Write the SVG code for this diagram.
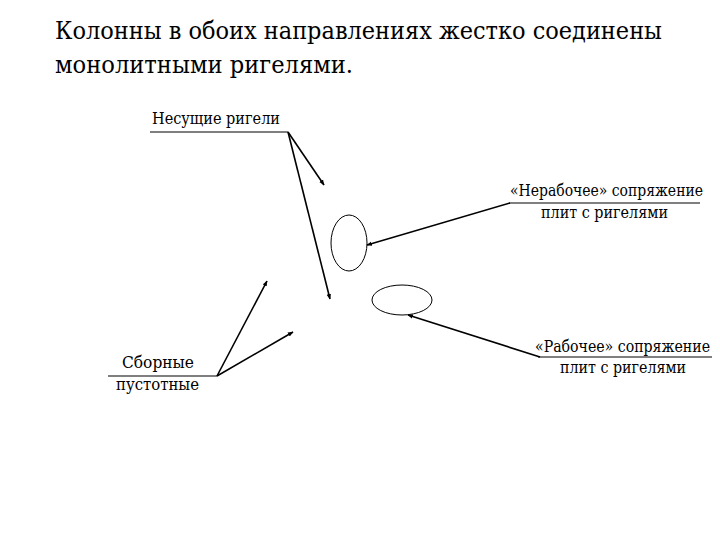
<svg xmlns="http://www.w3.org/2000/svg" width="720" height="540" viewBox="0 0 720 540">
<style>
text{font-family:"DejaVu Serif Condensed","DejaVu Serif","Liberation Serif",serif;fill:#000}
.t{font-size:25px}
.l{font-size:16px}
.u{stroke:#000;stroke-width:1.2;fill:none}
.c{stroke:#000;stroke-width:1.6;fill:none}
.e{stroke:#000;stroke-width:1;fill:#fff}
</style>
<defs>
<marker id="a" viewBox="0 0 10 10" refX="9" refY="5" markerWidth="3.5" markerHeight="3.5" orient="auto" markerUnits="strokeWidth">
<path d="M0,1 L10,5 L0,9 z" fill="#000"/>
</marker>
</defs>
<rect width="720" height="540" fill="#fff"/>
<g id="title">
<text class="t" x="55" y="39" textLength="607" lengthAdjust="spacingAndGlyphs">Колонны в обоих направлениях жестко соединены</text>
<text class="t" x="55" y="73" textLength="298" lengthAdjust="spacingAndGlyphs">монолитными ригелями.</text>
</g>
<g id="ellipse1"><ellipse class="e" cx="349" cy="243" rx="18" ry="28"/></g>
<g id="ellipse2"><ellipse class="e" cx="402" cy="300" rx="30" ry="15"/></g>
<g id="label-nesushchie">
<text class="l" x="152" y="124" textLength="128" lengthAdjust="spacingAndGlyphs">Несущие ригели</text>
<line class="u" x1="150" y1="132" x2="288" y2="132"/>
</g>
<g id="label-nerabochee">
<text class="l" x="510" y="196" textLength="193" lengthAdjust="spacingAndGlyphs">«Нерабочее» сопряжение</text>
<line class="u" x1="509" y1="203" x2="700" y2="203"/>
<text class="l" x="541" y="218" textLength="127" lengthAdjust="spacingAndGlyphs">плит с ригелями</text>
</g>
<g id="label-rabochee">
<text class="l" x="535" y="352" textLength="175" lengthAdjust="spacingAndGlyphs">«Рабочее» сопряжение</text>
<line class="u" x1="538" y1="357" x2="712" y2="357"/>
<text class="l" x="560" y="373" textLength="126" lengthAdjust="spacingAndGlyphs">плит с ригелями</text>
</g>
<g id="label-sbornye">
<text class="l" x="122" y="368" textLength="72" lengthAdjust="spacingAndGlyphs">Сборные</text>
<line class="u" x1="108" y1="376" x2="217" y2="376"/>
<text class="l" x="116" y="390" textLength="83" lengthAdjust="spacingAndGlyphs">пустотные</text>
</g>
<g id="connectors">
<line class="c" x1="288" y1="132" x2="324" y2="185" marker-end="url(#a)"/>
<line class="c" x1="288" y1="132" x2="330" y2="299" marker-end="url(#a)"/>
<line class="c" x1="510" y1="203" x2="367" y2="245" marker-end="url(#a)"/>
<line class="c" x1="540" y1="357" x2="408" y2="315" marker-end="url(#a)"/>
<line class="c" x1="217" y1="376" x2="267" y2="281" marker-end="url(#a)"/>
<line class="c" x1="217" y1="376" x2="293" y2="332" marker-end="url(#a)"/>
</g>
</svg>
